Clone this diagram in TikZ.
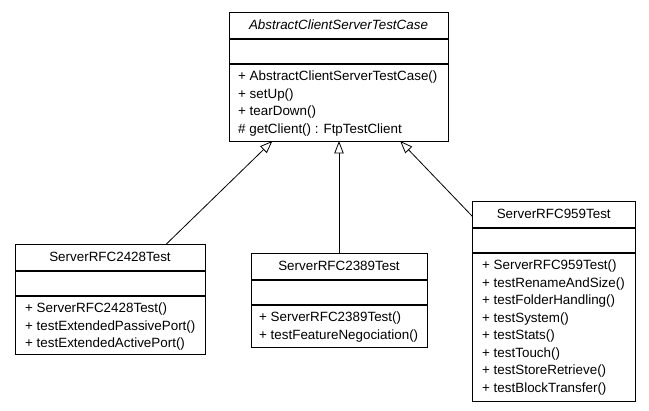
\documentclass[tikz,border=0pt]{standalone}
\usepackage{fontspec}
\setmainfont{Liberation Sans}
\usetikzlibrary{arrows.meta}
\begin{document}
\begin{tikzpicture}[x=1pt,y=-1pt,
  cls/.style={draw, line width=0.9pt, rectangle, anchor=north west, inner sep=0pt, outer sep=0pt},
  ttl/.style={anchor=base, inner sep=0pt, font=\fontsize{13.4}{15}\selectfont},
  mth/.style={anchor=base west, inner sep=0pt, font=\fontsize{13.4}{15}\selectfont},
  sep/.style={line width=1.2pt},
  inh/.style={-{Triangle[open, length=12.5pt, width=9.5pt, fill=white]}, line width=0.8pt}
]
\useasboundingbox (0,0) rectangle (649,411);

% Abstract base class
\node[cls, minimum width=219pt, minimum height=129pt] (base) at (229,12) {};
\draw[sep] ([yshift=-27pt]base.north west) -- ([yshift=-27pt]base.north east);
\draw[sep] ([yshift=-52pt]base.north west) -- ([yshift=-52pt]base.north east);
\node[ttl] (baset) at ([yshift=-17.5pt]base.north) {\itshape AbstractClientServerTestCase};
\node[mth] (basem1) at ([xshift=9pt,yshift=-69pt]base.north west) {+ AbstractClientServerTestCase()};
\node[mth] (basem2) at ([xshift=9pt,yshift=-86.5pt]base.north west) {+ setUp()};
\node[mth] (basem3) at ([xshift=9pt,yshift=-104pt]base.north west) {+ tearDown()};
\node[mth] (basem4) at ([xshift=9pt,yshift=-121.5pt]base.north west) {\# getClient() : FtpTestClient};

% ServerRFC2428Test
\node[cls, minimum width=190pt, minimum height=110pt] (ca) at (15,244) {};
\draw[sep] ([yshift=-27pt]ca.north west) -- ([yshift=-27pt]ca.north east);
\draw[sep] ([yshift=-52pt]ca.north west) -- ([yshift=-52pt]ca.north east);
\node[ttl] (cat) at ([yshift=-17.5pt]ca.north) {ServerRFC2428Test};
\node[mth] (cam1) at ([xshift=10pt,yshift=-69pt]ca.north west) {+ ServerRFC2428Test()};
\node[mth] (cam2) at ([xshift=10pt,yshift=-86.5pt]ca.north west) {+ testExtendedPassivePort()};
\node[mth] (cam3) at ([xshift=10pt,yshift=-104pt]ca.north west) {+ testExtendedActivePort()};

% ServerRFC2389Test
\node[cls, minimum width=176pt, minimum height=94pt] (cb) at (251,253) {};
\draw[sep] ([yshift=-27pt]cb.north west) -- ([yshift=-27pt]cb.north east);
\draw[sep] ([yshift=-52pt]cb.north west) -- ([yshift=-52pt]cb.north east);
\node[ttl] (cbt) at ([yshift=-17.5pt]cb.north) {ServerRFC2389Test};
\node[mth] (cbm1) at ([xshift=8pt,yshift=-69pt]cb.north west) {+ ServerRFC2389Test()};
\node[mth] (cbm2) at ([xshift=8pt,yshift=-86.5pt]cb.north west) {+ testFeatureNegociation()};

% ServerRFC959Test
\node[cls, minimum width=162.5pt, minimum height=200pt] (cc) at (472.5,201) {};
\draw[sep] ([yshift=-27pt]cc.north west) -- ([yshift=-27pt]cc.north east);
\draw[sep] ([yshift=-52pt]cc.north west) -- ([yshift=-52pt]cc.north east);
\node[ttl] (cct) at ([yshift=-17.5pt]cc.north) {ServerRFC959Test};
\node[mth] (ccm1) at ([xshift=9.5pt,yshift=-69pt]cc.north west) {+ ServerRFC959Test()};
\node[mth] (ccm2) at ([xshift=9.5pt,yshift=-86.5pt]cc.north west) {+ testRenameAndSize()};
\node[mth] (ccm3) at ([xshift=9.5pt,yshift=-104pt]cc.north west) {+ testFolderHandling()};
\node[mth] (ccm4) at ([xshift=9.5pt,yshift=-121.5pt]cc.north west) {+ testSystem()};
\node[mth] (ccm5) at ([xshift=9.5pt,yshift=-139pt]cc.north west) {+ testStats()};
\node[mth] (ccm6) at ([xshift=9.5pt,yshift=-156.5pt]cc.north west) {+ testTouch()};
\node[mth] (ccm7) at ([xshift=9.5pt,yshift=-174pt]cc.north west) {+ testStoreRetrieve()};
\node[mth] (ccm8) at ([xshift=9.5pt,yshift=-191.5pt]cc.north west) {+ testBlockTransfer()};

% inheritance
\draw[inh] (ca) -- (base);
\draw[inh] (cb.north) -- (cb.north |- base.south);
\draw[inh] (cc) -- (base);
\end{tikzpicture}
\end{document}
